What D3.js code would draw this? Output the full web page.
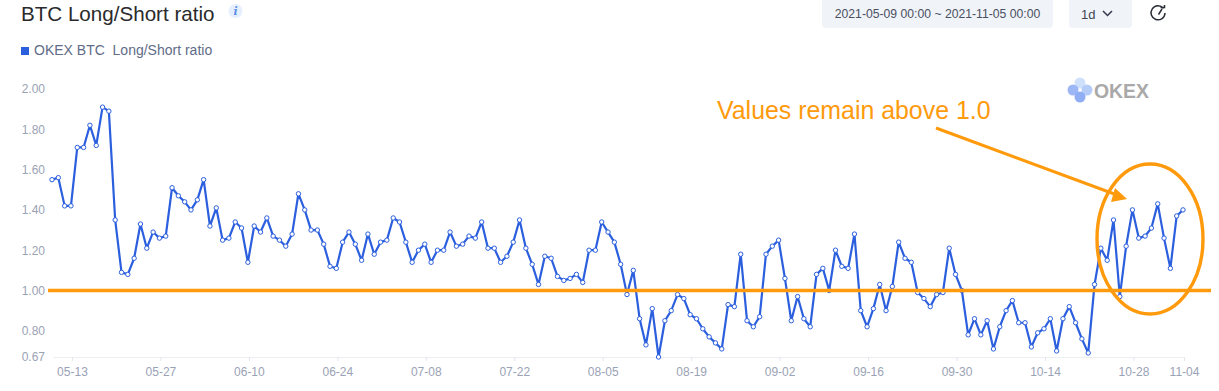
<!DOCTYPE html>
<html>
<head>
<meta charset="utf-8">
<script src="https://cdn.jsdelivr.net/npm/d3@7"></script>
<style>
	html, body { margin: 0; padding: 0; background: #fff; overflow: hidden; }
	text { font-family: "Liberation Sans", sans-serif; }
</style>
</head>
<body>
<div id="chart"></div>
<script>
'use strict';

// long/short ratio, one value per day
const ratioValues = [
	1.55,1.56,1.42,1.42,1.71,1.71,1.82,1.72,1.91,1.89,
	1.35,1.09,1.08,1.16,1.33,1.21,1.29,1.26,1.27,1.51,
	1.47,1.44,1.40,1.45,1.55,1.32,1.41,1.25,1.26,1.34,
	1.31,1.14,1.32,1.29,1.36,1.27,1.25,1.22,1.28,1.48,
	1.40,1.30,1.30,1.23,1.12,1.11,1.24,1.29,1.23,1.15,
	1.28,1.18,1.24,1.25,1.36,1.34,1.24,1.14,1.20,1.23,
	1.14,1.20,1.20,1.29,1.22,1.23,1.27,1.26,1.34,1.21,
	1.21,1.14,1.17,1.24,1.35,1.21,1.13,1.03,1.17,1.16,
	1.07,1.05,1.06,1.08,1.04,1.20,1.20,1.34,1.29,1.24,
	1.13,0.98,1.10,0.86,0.73,0.91,0.67,0.85,0.90,0.98,
	0.96,0.88,0.86,0.81,0.77,0.74,0.71,0.93,0.92,1.18,
	0.85,0.82,0.87,1.18,1.22,1.25,1.06,0.85,0.97,0.86,
	0.82,1.08,1.11,1.00,1.20,1.12,1.11,1.28,0.90,0.82,
	0.91,1.03,0.90,1.02,1.24,1.16,1.14,0.99,0.96,0.92,
	0.98,0.99,1.21,1.08,1.00,0.78,0.86,0.78,0.85,0.71,
	0.82,0.90,0.95,0.84,0.84,0.72,0.79,0.81,0.86,0.70,
	0.86,0.92,0.84,0.76,0.69,1.03,1.21,1.15,1.35,0.97,
	1.22,1.40,1.26,1.27,1.31,1.43,1.26,1.11,1.37,1.40
];

// x axis labels and the point index each one sits on
const xTickLabels = ['05-13','05-27','06-10','06-24','07-08','07-22','08-05','08-19','09-02','09-16','09-30','10-14','10-28','11-04'];
const xTickIndex = [3,17,31,45,59,73,87,101,115,129,143,157,171,179];
const yTicks = [0.67,0.80,1.00,1.20,1.40,1.60,1.80,2.00];

const blue = '#2b5fde';
const orange = '#ff9a0d';

const width = 1219;
const height = 391;

const svg = d3.select('#chart')
	.append('svg')
	.attr('width', width)
	.attr('height', height);

const x = d3.scalePoint()
	.domain(d3.range(ratioValues.length))
	.range([52, 1183]);

const y = d3.scaleLinear()
	.domain([0.67, 2])
	.range([357, 89]);

// Axes
const labelOf = d3.scaleOrdinal().domain(xTickIndex).range(xTickLabels);

const xAxis = svg.append('g')
	.attr('transform', 'translate(1,' + y(0.67) + ')')
	.call(d3.axisBottom(x).tickValues(xTickIndex).tickSize(4).tickSizeOuter(0).tickPadding(6).tickFormat(labelOf));
xAxis.select('.domain').attr('stroke', '#eceef2');
xAxis.selectAll('.tick line').attr('stroke', '#e3e6ec');
xAxis.selectAll('.tick text')
	.attr('fill', '#9aa2b5')
	.style('font-size', '12px')
	.style('font-family', '"Liberation Sans", sans-serif');

const yAxis = svg.append('g')
	.attr('transform', 'translate(45,0)')
	.call(d3.axisLeft(y).tickValues(yTicks).tickSize(0).tickPadding(0).tickFormat(d3.format('.2f')));
yAxis.select('.domain').remove();
yAxis.selectAll('.tick text')
	.attr('fill', '#9aa2b5')
	.style('font-size', '12px')
	.style('font-family', '"Liberation Sans", sans-serif');

// Series
const line = d3.line()
	.x((d, i) => x(i))
	.y(d => y(d));

svg.append('path')
	.datum(ratioValues)
	.attr('fill', 'none')
	.attr('stroke', blue)
	.attr('stroke-width', 2.2)
	.attr('stroke-linejoin', 'round')
	.attr('d', line);

svg.append('g')
	.selectAll('circle')
	.data(ratioValues)
	.enter()
	.append('circle')
		.attr('cx', (d, i) => x(i))
		.attr('cy', d => y(d))
		.attr('r', 2.2)
		.attr('fill', '#fff')
		.attr('stroke', blue)
		.attr('stroke-width', 1);

// Header
svg.append('text')
	.attr('x', 21).attr('y', 21)
	.attr('fill', '#2a2a2c')
	.style('font-size', '20.6px')
	.style('font-weight', 500)
	.style('-webkit-text-stroke', '0.3px #2a2a2c')
	.text('BTC Long/Short ratio');

svg.append('circle').attr('cx', 235.5).attr('cy', 11).attr('r', 7).attr('fill', '#e6effd');
svg.append('text')
	.attr('x', 235.5).attr('y', 15)
	.attr('text-anchor', 'middle')
	.attr('fill', '#5b8fe8')
	.style('font-size', '11px')
	.style('font-style', 'italic')
	.style('font-weight', 'bold')
	.style('font-family', '"DejaVu Serif", serif')
	.text('i');

svg.append('rect').attr('x', 21).attr('y', 47).attr('width', 8).attr('height', 8).attr('fill', blue);
svg.append('text')
	.attr('x', 34).attr('y', 55)
	.attr('fill', '#616c88')
	.style('font-size', '14px')
	.style('white-space', 'pre')
	.text('OKEX BTC  Long/Short ratio');

// Date range and interval controls
svg.append('rect').attr('x', 822).attr('y', -4).attr('width', 231).attr('height', 32).attr('rx', 4).attr('fill', '#f0f3f8');
svg.append('text')
	.attr('x', 937.5).attr('y', 18)
	.attr('text-anchor', 'middle')
	.attr('fill', '#4a5062')
	.style('font-size', '12.2px')
	.text('2021-05-09 00:00 ~ 2021-11-05 00:00');

svg.append('rect').attr('x', 1069).attr('y', -4).attr('width', 63).attr('height', 32).attr('rx', 4).attr('fill', '#f0f3f8');
svg.append('text')
	.attr('x', 1081).attr('y', 18.5)
	.attr('fill', '#3f4454')
	.style('font-size', '13px')
	.text('1d');
svg.append('path')
	.attr('d', 'M1103 11l4.500 4.500l4.500 -4.500')
	.attr('fill', 'none').attr('stroke', '#33384a').attr('stroke-width', 1.5);

// Refresh icon
svg.append('path')
	.attr('d', 'M1163.500 8.500A7 7 0 1 0 1165 13M1158.500 14.500L1162 9M1160.500 7.500h4v-2.500')
	.attr('fill', 'none').attr('stroke', '#2a2d35').attr('stroke-width', 1.5);

// Watermark
const logoCircles = [[1080,83,'#cfe0fb'],[1073,90,'#9db6f5'],[1087,90,'#b5ccf9'],[1080,97,'#8faef4']];
svg.append('g')
	.selectAll('circle')
	.data(logoCircles)
	.enter()
	.append('circle')
		.attr('cx', d => d[0])
		.attr('cy', d => d[1])
		.attr('r', 5.5)
		.attr('fill', d => d[2]);
svg.append('text')
	.attr('x', 1094).attr('y', 97.500)
	.attr('fill', '#a9a9a9')
	.attr('textLength', 55)
	.attr('lengthAdjust', 'spacingAndGlyphs')
	.style('font-size', '21px')
	.style('font-weight', 'bold')
	.text('OKEX');

// Annotations on top of the chart
svg.append('line')
	.attr('x1', 48).attr('x2', 1211)
	.attr('y1', y(1)).attr('y2', y(1))
	.attr('stroke', orange).attr('stroke-width', 3.4);

svg.append('ellipse')
	.attr('cx', 1150).attr('cy', 239)
	.attr('rx', 53).attr('ry', 75)
	.attr('fill', 'none')
	.attr('stroke', orange).attr('stroke-width', 3.4);

svg.append('line')
	.attr('x1', 936).attr('y1', 128)
	.attr('x2', 1117).attr('y2', 195)
	.attr('stroke', orange).attr('stroke-width', 3);
svg.append('path')
	.attr('d', 'M1115 188L1127 199L1111 202Z')
	.attr('fill', orange);

svg.append('text')
	.attr('x', 717).attr('y', 119)
	.attr('fill', orange)
	.style('font-size', '24.9px')
	.text('Values remain above 1.0');
</script>
</body>
</html>
